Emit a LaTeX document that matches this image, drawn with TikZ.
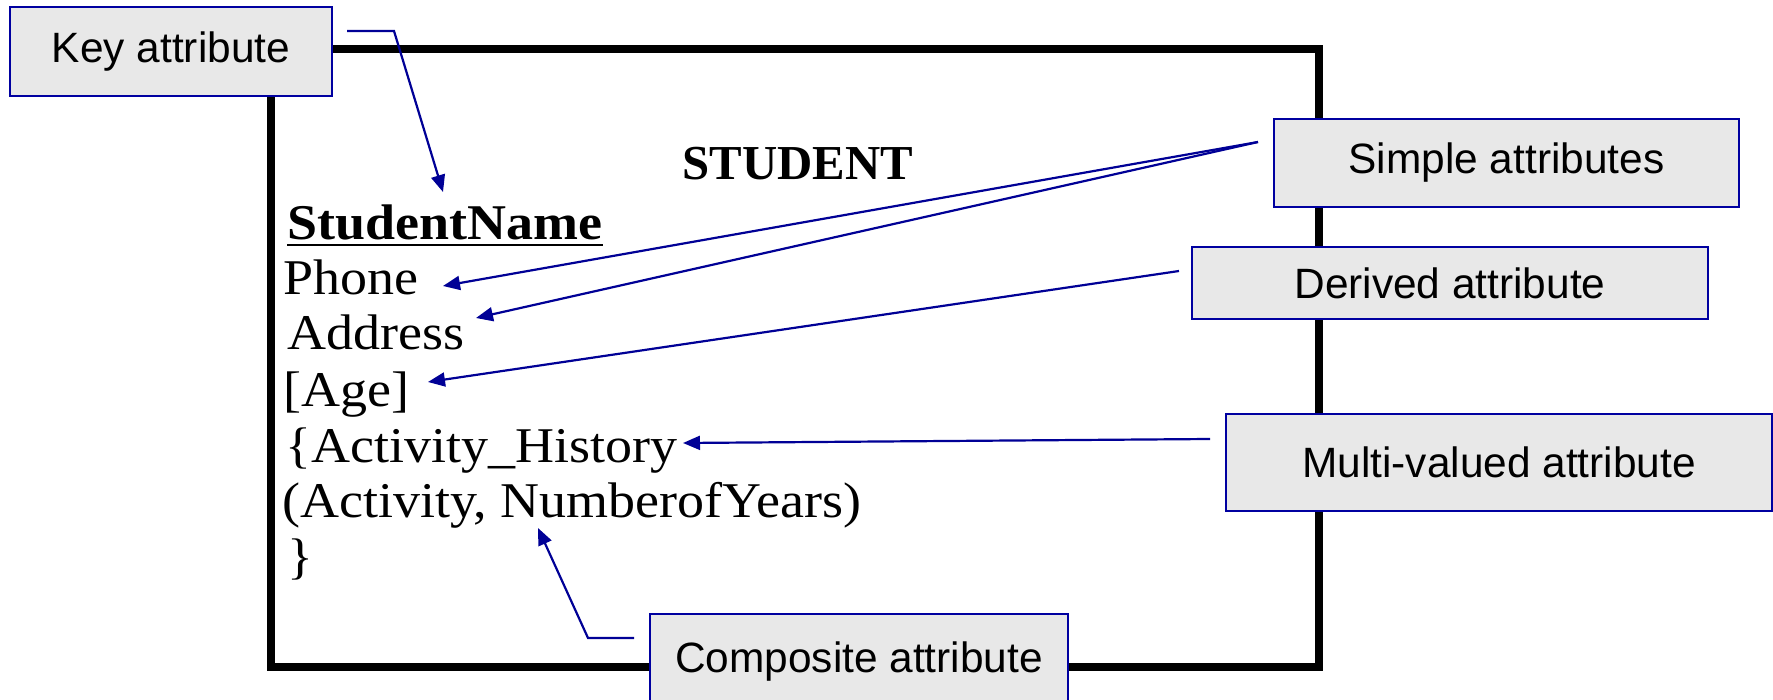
\documentclass[tikz,border=0pt]{standalone}
\usepackage{fontspec}
\usetikzlibrary{arrows.meta}
\newfontfamily\lblfont{Liberation Sans}
\newfontfamily\bmpfont[FakeStretch=1.08]{Liberation Serif}
\newfontfamily\hdfont{Liberation Serif}
\definecolor{boxblue}{RGB}{0,0,160}
\definecolor{boxgray}{RGB}{232,232,232}
\definecolor{linkblue}{RGB}{0,0,150}
\tikzset{
  labelbox/.style={draw=boxblue, line width=1.2pt, fill=boxgray, inner sep=0pt,
    font=\lblfont\fontsize{21.2pt}{25pt}\selectfont, text=black},
  entline/.style={anchor=base west, inner sep=0pt, font=\bmpfont\fontsize{25pt}{28pt}\selectfont},
  link/.style={draw=linkblue, line width=1.1pt, -{Triangle[length=8.5pt,width=7pt]}},
  frameline/.style={draw=black, line width=3.6pt}
}
\begin{document}
\begin{tikzpicture}[x=0.5pt,y=-0.5pt]
\useasboundingbox (0,0) rectangle (1773,700);
\clip (0,0) rectangle (1773,700);
\fill[white] (0,0) rectangle (1773,700);
% entity frame
\draw[frameline] (271,49) rectangle (1319,667);
% entity texts
\node[anchor=base west, inner sep=0pt, font=\hdfont\bfseries\fontsize{24.4pt}{28pt}\selectfont] (title) at (682,180) {STUDENT};
\node[entline, font=\bmpfont\bfseries\fontsize{25pt}{28pt}\selectfont] (sn) at (287,240) {StudentName};
\draw[line width=1.1pt] ([yshift=-2.6pt]sn.base west) -- ([yshift=-2.6pt]sn.base east);
\node[entline] (phone) at (283,295) {Phone};
\node[entline] (address) at (287,350) {Address};
\node[entline] (age) at (283,407) {[Age]};
\node[entline] (acthist) at (285,462) {\{Activity\_History};
\node[entline] (actcomp) at (282,517) {(Activity, NumberofYears)};
\node[entline] (closebr) at (287,573) {\}};
% label boxes
\node[labelbox, minimum width=161pt, minimum height=44.5pt] (key) at (171,51.5) {Key attribute};
\node[labelbox, minimum width=232.5pt, minimum height=44pt] (simple) at (1506.5,163) {Simple attributes};
\node[labelbox, minimum width=258pt, minimum height=36pt] (derived) at (1450,283) {Derived attribute};
\node[labelbox, minimum width=273pt, minimum height=48.5pt] (multi) at (1499,462.5) {Multi-valued attribute};
\node[labelbox, minimum width=209pt, minimum height=48pt] (composite) at (859,662) {Composite attribute};
% connector end points
\coordinate (keyS) at (347,31);
\coordinate (keyB) at (394,31);
\coordinate (keyT) at (443,192);
\coordinate (simS) at (1258,142);
\coordinate (phoneT) at (443,286);
\coordinate (addrT) at (476,318);
\coordinate (derS) at (1179,271);
\coordinate (ageT) at (428,382);
\coordinate (mulS) at (1210,439);
\coordinate (histT) at (683,443);
\coordinate (comS) at (634,638);
\coordinate (comB) at (588,638);
\coordinate (comT) at (538,528);
% connectors
\draw[link] (keyS) -- (keyB) -- (keyT);
\draw[link] (simS) -- (phoneT);
\draw[link] (simS) -- (addrT);
\draw[link] (derS) -- (ageT);
\draw[link] (mulS) -- (histT);
\draw[link] (comS) -- (comB) -- (comT);
\end{tikzpicture}
\end{document}
